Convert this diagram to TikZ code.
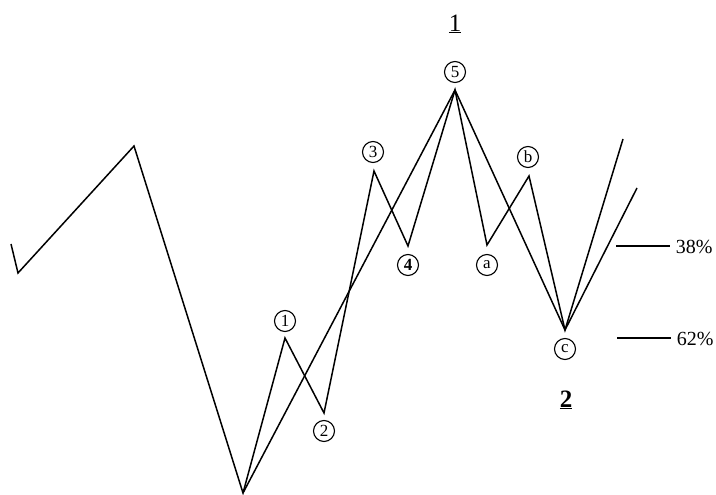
\documentclass[tikz,border=0pt]{standalone}
\usepackage{fontspec}
\setmainfont{Liberation Serif}
\usepackage{tikz}
\usetikzlibrary{positioning}
\tikzset{
  wl/.style={draw,circle,line width=1.1pt,inner sep=0pt,minimum size=21pt,font=\fontsize{17}{17}\selectfont},
  pct/.style={anchor=west,inner sep=0pt,font=\fontsize{20}{20}\selectfont}
}

\begin{document}
\begin{tikzpicture}[x=1pt,y=-1pt,line width=1.5pt,line join=miter]
  \useasboundingbox (0,0) rectangle (716,495);
  \coordinate (s0) at (11,244); \coordinate (s1) at (18,273); \coordinate (s2) at (134,146);
  \coordinate (w0) at (243,493); \coordinate (w1) at (285,338); \coordinate (w2) at (324,413);
  \coordinate (w3) at (374,171); \coordinate (w4) at (408,246); \coordinate (w5) at (455,90);
  \coordinate (wa) at (487,245); \coordinate (wb) at (529,176); \coordinate (wc) at (565,330);
  \coordinate (e1) at (623,139); \coordinate (e2) at (637,188);
  \draw (s0) -- (s1) -- (s2) -- (w0) -- (w1) -- (w2) -- (w3) -- (w4) -- (w5) -- (wa) -- (wb) -- (wc) -- (e1);
  \draw (w0) -- (w5) -- (wc) -- (e2);
  \node[wl] (l1) at (285,321) {1}; \node[wl] (l2) at (324,431) {2};
  \node[wl] (l3) at (373,152) {3}; \node[wl] (l4) at (408,265) {\textbf{4}};
  \node[wl] (l5) at (455,72) {5};
  \node[wl] (la) at (487,265) {a}; \node[wl] (lb) at (528,157) {b};
  \node[wl] (lc) at (565,349) {c};
  \node[font=\fontsize{25}{25}\selectfont] (top) at (455,24) {\underline{1}};
  \node[font=\bfseries\fontsize{25}{25}\selectfont] (bot) at (566,400) {\underline{2}};
  \coordinate (r38) at (616,246); \coordinate (r62) at (617,338);
  \node[pct] (p38) at (675,247) {38\%}; \node[pct] (p62) at (676,339) {62\%};
  \draw (r38) -- ([xshift=-5pt]p38.west |- r38) (r62) -- ([xshift=-5pt]p62.west |- r62);
\end{tikzpicture}
\end{document}
